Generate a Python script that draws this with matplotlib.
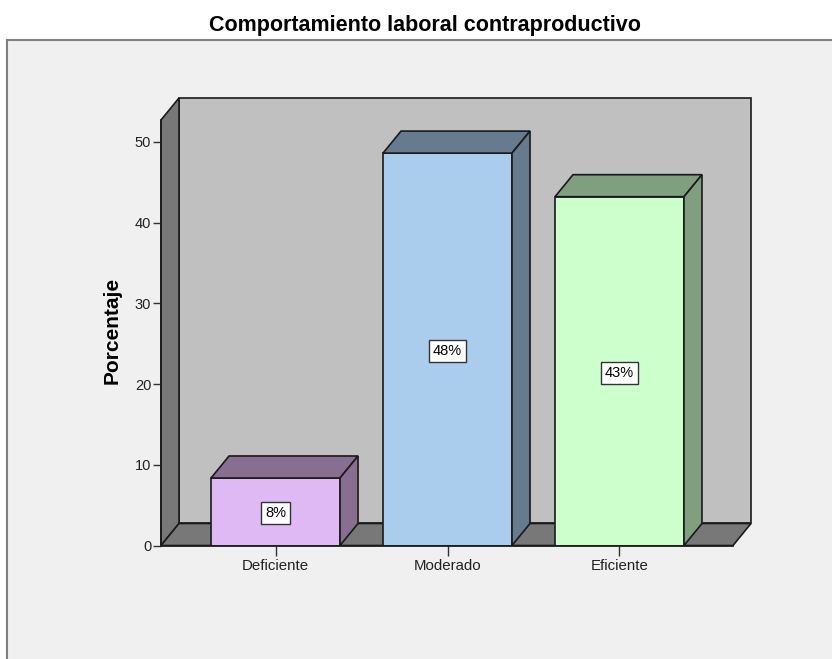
import matplotlib
matplotlib.use("Agg")
import matplotlib.pyplot as plt
from matplotlib.patches import Polygon, Rectangle

categories = ["Deficiente", "Moderado", "Eficiente"]
values = [8.36, 48.6, 43.2]
labels = ["8%", "48%", "43%"]
y_ticks = [0, 10, 20, 30, 40, 50]

face_colors = ["#DFB9F3", "#ABCDED", "#CCFFCC"]
side_colors = ["#886F91", "#667B8E", "#7F9F7F"]

W, H = 832, 659
plt.rcParams['font.family'] = ['Liberation Sans', 'DejaVu Sans']

fig = plt.figure(figsize=(W / 100, H / 100), dpi=100, facecolor="white")

# grey panel, runs off the right and bottom of the picture
fig.add_artist(Rectangle((7 / W, -0.01), 1, (H - 40) / H + 0.01, transform=fig.transFigure,
                         facecolor="#F0F0F0", edgecolor="#808080", linewidth=1.5, zorder=-1))

fig.text(425 / W, 1 - 25 / H, "Comportamiento laboral contraproductivo",
         ha="center", va="center", fontsize=15.5, fontweight="bold", color="black")

# axes = the front plane of the 3D box
ax = fig.add_axes([161 / W, 1 - 545.5 / H, (733 - 161) / W, (545.5 - 120) / H])
ax.patch.set_visible(False)
ax.set_xlim(0.334, 3.66)
ax.set_ylim(0, 52.7)

# depth of the fake 3D, in data units
dx = 18 / 172
dy = 22 / 8.07
x0, x1 = ax.get_xlim()
top = ax.get_ylim()[1]
edge = "#1A1A1A"

ax.add_patch(Polygon([(x0 + dx, dy), (x1 + dx, dy), (x1 + dx, top + dy), (x0 + dx, top + dy)],
                     facecolor="#C0C0C0", edgecolor=edge, linewidth=1.2, clip_on=False, zorder=1))
ax.add_patch(Polygon([(x0, 0), (x0 + dx, dy), (x0 + dx, top + dy), (x0, top)],
                     facecolor="#787878", edgecolor=edge, linewidth=1.2, clip_on=False, zorder=1))
ax.add_patch(Polygon([(x0, 0), (x1, 0), (x1 + dx, dy), (x0 + dx, dy)],
                     facecolor="#787878", edgecolor=edge, linewidth=1.2, clip_on=False, zorder=1))

positions = [1, 2, 3]
width = 0.75
ax.bar(positions, values, width=width, color=face_colors, edgecolor=edge, linewidth=1.2, zorder=3)

for p, v, c, lab in zip(positions, values, side_colors, labels):
    l, r = p - width / 2, p + width / 2
    ax.add_patch(Polygon([(l, v), (r, v), (r + dx, v + dy), (l + dx, v + dy)],
                         facecolor=c, edgecolor=edge, linewidth=1.2, clip_on=False, zorder=3))
    ax.add_patch(Polygon([(r, 0), (r + dx, dy), (r + dx, v + dy), (r, v)],
                         facecolor=c, edgecolor=edge, linewidth=1.2, clip_on=False, zorder=3))
    ax.text(p, v / 2, lab, ha="center", va="center_baseline", fontsize=10.5, color="black", zorder=5,
            bbox=dict(boxstyle="square,pad=0.28", facecolor="white", edgecolor="#333333", linewidth=1))

for s in ["top", "right"]:
    ax.spines[s].set_visible(False)
for s in ["left", "bottom"]:
    ax.spines[s].set_linewidth(1.2)
    ax.spines[s].set_color(edge)
    ax.spines[s].set_zorder(4)

ax.set_xticks(positions)
ax.set_xticklabels(categories)
ax.set_yticks(y_ticks)
ax.tick_params(axis="x", length=7, width=1, pad=3, labelsize=10.8, color="#333333", labelcolor="#222222")
ax.tick_params(axis="y", length=6, width=1, pad=1, labelsize=10.5, color="#333333", labelcolor="#222222")
ax.set_ylabel("Porcentaje", fontsize=15, fontweight="bold")
ax.yaxis.set_label_coords((122 - 161) / (733 - 161), (545.5 - 330.5) / (545.5 - 120))

fig.savefig("out.png", dpi=100)
